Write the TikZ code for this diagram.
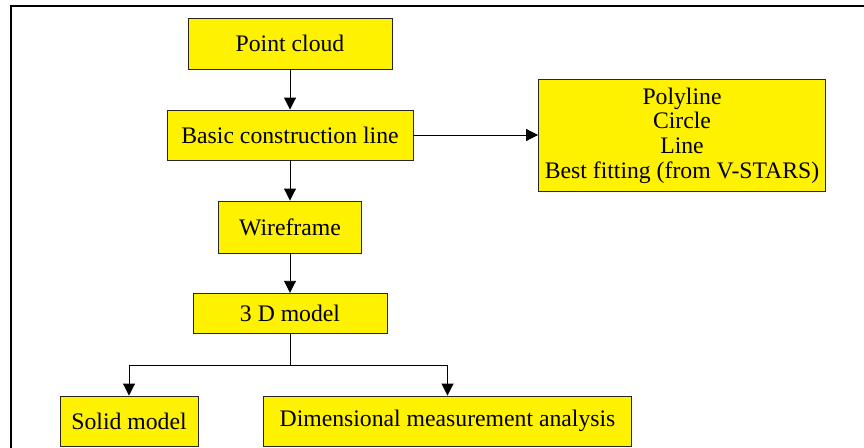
\documentclass[tikz,border=0pt]{standalone}
\usepackage{fontspec}
\setmainfont{Liberation Serif}
\usetikzlibrary{arrows.meta}
\begin{document}
\begin{tikzpicture}[x=1pt,y=-1pt,
  box/.style={draw=black!85,line width=0.9pt,fill=yellow,rectangle,inner sep=0pt,
    font=\fontsize{23.7}{24.7}\selectfont,align=center},
  arr/.style={line width=0.9pt,-{Triangle[length=12pt,width=12pt]}},
  frame/.style={line width=1.6pt}]
\useasboundingbox (0,0) rectangle (864,447);
\draw[frame] (870,6) -- (11,6) -- (11,452);
\node[box,minimum width=204pt,minimum height=51pt] (pc) at (290,43.5) {Point cloud};
\node[box,minimum width=246pt,minimum height=50pt] (bcl) at (290,135) {Basic construction line};
\node[box,minimum width=143pt,minimum height=52pt] (wf) at (290,227) {Wireframe};
\node[box,minimum width=194pt,minimum height=40.5pt] (m3d) at (290,313.5) {3 D model};
\node[box,minimum width=138pt,minimum height=50pt] (solid) at (129,421) {Solid model};
\node[box,minimum width=368pt,minimum height=50pt] (dim) at (447.5,421) {Dimensional measurement analysis};
\node[box,minimum width=287pt,minimum height=112pt] (fit) at (682,135.5) {Polyline\\Circle\\Line\\Best fitting (from V-STARS)};
\coordinate (br) at (290,365);
\draw[arr] (pc) -- (bcl);
\draw[arr] (bcl) -- (wf);
\draw[arr] (wf) -- (m3d);
\draw[arr] (bcl.east) -- (bcl.east -| fit.west);
\draw[line width=0.9pt] (m3d.south) -- (br);
\draw[arr] (br) -| (solid.north);
\draw[arr] (br) -| (dim.north);
\end{tikzpicture}
\end{document}
